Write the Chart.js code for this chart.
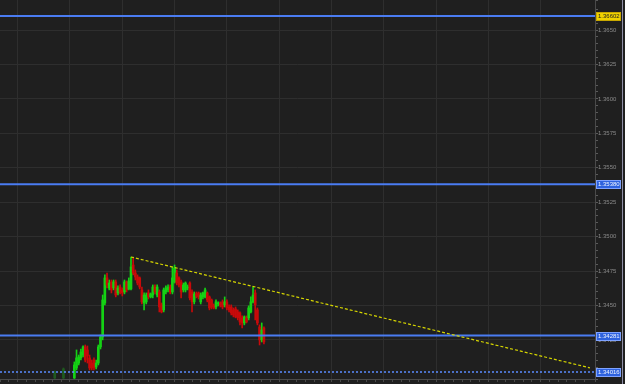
<!DOCTYPE html>
<html>
<head>
<meta charset="utf-8">
<script src="https://cdn.jsdelivr.net/npm/chart.js@4.4.1/dist/chart.umd.min.js"></script>
<style>
  html, body { margin: 0; padding: 0; background: #1f1f1f; }
  #wrap { width: 622px; height: 384px; border-right: 1px solid #8e8ea6; }
  canvas { display: block; }
</style>
</head>
<body>
<div id="wrap"><canvas id="priceChart" width="622" height="384"></canvas></div>
<script>
// Candle data (time slot, OHLC). First two slots are the faint pre-session bars
const slots = [-7, -3].concat(Array.from({ length: 88 }, (_, i) => i + 2));

const opens = [1.33973, 1.33973,
    1.33973,1.34046,1.34082,1.34119,1.34140,1.34199,1.34177,1.34119,1.34082,1.34104,
    1.34053,1.34082,1.34199,1.34271,1.34518,1.34700,1.34627,1.34671,1.34627,1.34671,
    1.34591,1.34634,1.34613,1.34598,1.34671,1.34620,1.34620,1.34794,1.34736,1.34707,
    1.34700,1.34613,1.34518,1.34526,1.34591,1.34562,1.34576,1.34634,1.34576,1.34598,
    1.34504,1.34468,1.34598,1.34613,1.34634,1.34598,1.34671,1.34736,1.34700,1.34671,
    1.34613,1.34613,1.34627,1.34663,1.34598,1.34526,1.34584,1.34591,1.34526,1.34562,
    1.34562,1.34591,1.34562,1.34540,1.34497,1.34489,1.34511,1.34518,1.34526,1.34504,
    1.34526,1.34489,1.34489,1.34468,1.34475,1.34453,1.34446,1.34410,1.34373,1.34410,
    1.34410,1.34453,1.34526,1.34591,1.34468,1.34344,1.34250,1.34337];

const highs = [1.34024, 1.34046,
    1.34090,1.34177,1.34140,1.34184,1.34206,1.34213,1.34206,1.34140,1.34104,1.34119,
    1.34104,1.34213,1.34286,1.34576,1.34722,1.34736,1.34685,1.34685,1.34685,1.34685,
    1.34642,1.34649,1.34627,1.34685,1.34678,1.34700,1.34852,1.34845,1.34758,1.34722,
    1.34707,1.34634,1.34591,1.34591,1.34613,1.34591,1.34649,1.34649,1.34649,1.34613,
    1.34518,1.34627,1.34642,1.34649,1.34649,1.34780,1.34794,1.34758,1.34707,1.34685,
    1.34663,1.34671,1.34649,1.34671,1.34613,1.34598,1.34598,1.34598,1.34591,1.34598,
    1.34627,1.34598,1.34569,1.34547,1.34511,1.34540,1.34526,1.34526,1.34540,1.34562,
    1.34540,1.34504,1.34504,1.34482,1.34489,1.34468,1.34453,1.34424,1.34424,1.34424,
    1.34497,1.34562,1.34634,1.34613,1.34482,1.34359,1.34373,1.34344];

const lows = [1.33970, 1.33970,
    1.33970,1.34032,1.34068,1.34104,1.34126,1.34090,1.34082,1.34032,1.34032,1.34032,
    1.34039,1.34068,1.34184,1.34250,1.34504,1.34627,1.34613,1.34591,1.34613,1.34562,
    1.34576,1.34584,1.34569,1.34584,1.34598,1.34613,1.34613,1.34722,1.34685,1.34649,
    1.34620,1.34511,1.34468,1.34511,1.34547,1.34555,1.34555,1.34584,1.34562,1.34453,
    1.34446,1.34453,1.34584,1.34598,1.34584,1.34584,1.34663,1.34649,1.34634,1.34555,
    1.34598,1.34598,1.34613,1.34540,1.34453,1.34511,1.34555,1.34547,1.34511,1.34547,
    1.34555,1.34526,1.34468,1.34475,1.34475,1.34475,1.34497,1.34489,1.34475,1.34489,
    1.34468,1.34453,1.34431,1.34417,1.34410,1.34395,1.34359,1.34337,1.34359,1.34373,
    1.34395,1.34446,1.34518,1.34395,1.34359,1.34213,1.34235,1.34220];

const closes = [1.34017, 1.34039,
    1.34068,1.34119,1.34126,1.34162,1.34199,1.34104,1.34133,1.34046,1.34046,1.34046,
    1.34082,1.34199,1.34271,1.34540,1.34700,1.34649,1.34663,1.34613,1.34671,1.34576,
    1.34627,1.34598,1.34591,1.34671,1.34613,1.34678,1.34780,1.34736,1.34707,1.34663,
    1.34634,1.34526,1.34576,1.34576,1.34562,1.34584,1.34634,1.34598,1.34634,1.34489,
    1.34453,1.34613,1.34627,1.34634,1.34598,1.34700,1.34772,1.34663,1.34649,1.34598,
    1.34649,1.34663,1.34634,1.34555,1.34526,1.34584,1.34569,1.34562,1.34576,1.34591,
    1.34613,1.34540,1.34482,1.34489,1.34482,1.34526,1.34518,1.34504,1.34489,1.34526,
    1.34482,1.34468,1.34446,1.34431,1.34417,1.34410,1.34380,1.34373,1.34417,1.34380,
    1.34482,1.34526,1.34576,1.34504,1.34373,1.34250,1.34322,1.34235];

// Horizontal price levels and the dotted support level
const levels = [1.36602, 1.35380, 1.34281];
const supportLevel = 1.34016;

// Falling trend line (slot, price)
const trendSlots = [28, 238.6];
const trendPrices = [1.34852, 1.34047];

// Axis range
const xMin = -32.12, xMax = 240.94;
const yMin = 1.33966, yMax = 1.36718;

function candleColor(i) {
    if (slots[i] < 0) return '#1f5a1f';
    return closes[i] >= opens[i] ? '#14d214' : '#c80a0a';
}

function levelLine(value, color, width, dash) {
    return {
        type: 'line',
        data: [{ x: xMin, y: value }, { x: xMax, y: value }],
        borderColor: color,
        borderWidth: width,
        borderDash: dash,
        pointRadius: 0,
        order: 1
    };
}

const isMajorY = v => Math.abs(Math.round(v * 400) - v * 400) < 1e-6;

const badgePlugin = {
    id: 'badges',
    beforeDraw(chart) {
        const c = chart.ctx;
        c.save();
        c.fillStyle = '#1f1f1f';
        c.fillRect(0, 0, chart.width, chart.height);
        c.restore();
    },
    afterDraw(chart) {
        const c = chart.ctx;
        const y = chart.scales.y;
        const left = chart.chartArea.right + 1;
        const items = levels.map((v, i) => ({ v: v, yellow: i === 0 })).concat([{ v: supportLevel, yellow: false }]);
        c.save();
        c.font = '6px "Liberation Sans", Arial, sans-serif';
        c.textBaseline = 'middle';
        items.forEach(it => {
            const py = Math.round(y.getPixelForValue(it.v));
            c.fillStyle = it.yellow ? '#f0d200' : '#2e62de';
            c.fillRect(left, py - 4, 25, 9);
            c.strokeStyle = it.yellow ? '#c8a800' : '#7ea2ff';
            c.lineWidth = 1;
            c.strokeRect(left + 0.5, py - 3.5, 24, 8);
            c.fillStyle = it.yellow ? '#202020' : '#eef4ff';
            c.fillText(it.v.toFixed(5), left + 2, py + 0.5);
        });
        c.restore();
    }
};

function initPriceChart() {
    const ctx = document.getElementById('priceChart');

    const wicks = slots.map((s, i) => ({ x: s, y: [lows[i], highs[i]] }));
    const bodies = slots.map((s, i) => ({ x: s, y: [opens[i], closes[i]] }));

    new Chart(ctx, {
        type: 'bar',
        data: {
            datasets: [
                {
                    type: 'line',
                    data: trendSlots.map((s, i) => ({ x: s, y: trendPrices[i] })),
                    borderColor: '#d6d600',
                    borderWidth: 1.2,
                    borderDash: [3, 2],
                    pointRadius: 0,
                    order: 0
                },
                levelLine(levels[0], '#4a7cf2', 2, []),
                levelLine(levels[1], '#4a7cf2', 2, []),
                levelLine(levels[2], '#4a7cf2', 2, []),
                levelLine(supportLevel, '#5b8cff', 1.5, [2, 2]),
                {
                    data: bodies,
                    backgroundColor: ctx => candleColor(ctx.dataIndex),
                    borderWidth: 0,
                    barThickness: 2,
                    minBarLength: 1,
                    grouped: false,
                    order: 2
                },
                {
                    data: wicks,
                    backgroundColor: ctx => candleColor(ctx.dataIndex),
                    borderWidth: 0,
                    barThickness: 1,
                    grouped: false,
                    order: 3
                }
            ]
        },
        options: {
            responsive: false,
            animation: false,
            layout: { padding: 0 },
            plugins: {
                legend: { display: false },
                tooltip: { enabled: false }
            },
            scales: {
                x: {
                    type: 'linear',
                    min: xMin,
                    max: xMax,
                    offset: false,
                    afterFit: s => { s.height = 5; s.paddingLeft = 0; s.paddingRight = 0; },
                    ticks: { display: false, stepSize: 4, autoSkip: false },
                    grid: {
                        offset: false,
                        color: c => (c.tick && Number.isInteger(c.tick.value) && c.tick.value % 24 === 0) ? '#2e2e2e' : 'rgba(0,0,0,0)',
                        tickColor: '#4a4a4a',
                        tickLength: 3
                    },
                    border: { color: '#4a4a4a' }
                },
                y: {
                    position: 'right',
                    min: yMin,
                    max: yMax,
                    afterFit: s => { s.width = 27; s.paddingTop = 0; s.paddingBottom = 0; },
                    ticks: {
                        stepSize: 0.0005,
                        autoSkip: false,
                        padding: 0,
                        color: '#8a8a8a',
                        font: { family: '"Liberation Sans", Arial, sans-serif', size: 6 },
                        callback: v => isMajorY(v) ? v.toFixed(4) : ''
                    },
                    grid: {
                        color: c => (c.tick && isMajorY(c.tick.value)) ? '#2e2e2e' : 'rgba(0,0,0,0)',
                        tickColor: '#5a5a5a',
                        tickLength: 3
                    },
                    border: { color: '#4a4a4a' }
                }
            }
        },
        plugins: [badgePlugin]
    });
}

document.addEventListener('DOMContentLoaded', initPriceChart);
</script>
</body>
</html>
